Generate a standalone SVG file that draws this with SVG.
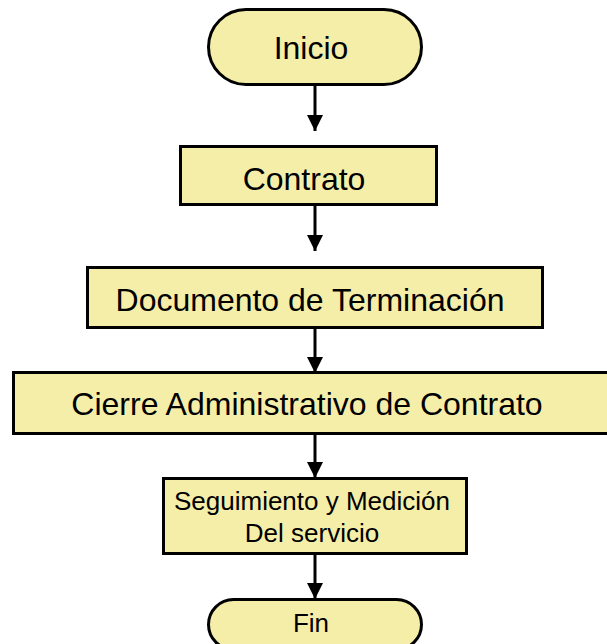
<svg xmlns="http://www.w3.org/2000/svg" width="607" height="644" viewBox="0 0 607 644">
<defs>
<style>
.box{fill:#F4EEA9;stroke:#000;stroke-width:3}
.t{font-family:"Liberation Sans",Arial,sans-serif;fill:#000;text-anchor:middle}
.big{font-size:32px}
.small{font-size:26px}
.c{stroke:#000;stroke-width:3;fill:none}
</style>
<marker id="arr" markerUnits="userSpaceOnUse" markerWidth="16" markerHeight="16" viewBox="0 0 16 16" refX="16" refY="8" orient="auto">
<path d="M0,0 L16,8 L0,16 Z" fill="#000"/>
</marker>
</defs>
<rect width="607" height="644" fill="#fff"/>
<g id="connectors">
<line class="c" x1="315" y1="85" x2="315" y2="131" marker-end="url(#arr)"/>
<line class="c" x1="315" y1="205" x2="315" y2="251" marker-end="url(#arr)"/>
<line class="c" x1="315" y1="328" x2="315" y2="373" marker-end="url(#arr)"/>
<line class="c" x1="315" y1="434" x2="315" y2="478" marker-end="url(#arr)"/>
<line class="c" x1="315" y1="554" x2="315" y2="599" marker-end="url(#arr)"/>
</g>
<g id="inicio">
<rect class="box" x="208.5" y="9.5" width="213" height="75" rx="37.5"/>
<text class="t big" x="311" y="59">Inicio</text>
</g>
<g id="contrato">
<rect class="box" x="180.5" y="146.5" width="256" height="58"/>
<text class="t big" x="304" y="190">Contrato</text>
</g>
<g id="documento">
<rect class="box" x="87.5" y="267.5" width="455" height="60"/>
<text class="t big" x="310" y="311">Documento de Terminación</text>
</g>
<g id="cierre">
<rect class="box" x="13.5" y="372.5" width="600" height="61"/>
<text class="t big" x="307" y="415">Cierre Administrativo de Contrato</text>
</g>
<g id="seguimiento">
<rect class="box" x="163.5" y="478.5" width="303" height="75"/>
<text class="t small" x="312" y="510">Seguimiento y Medición</text>
<text class="t small" x="312" y="542">Del servicio</text>
</g>
<g id="fin">
<rect class="box" x="208.5" y="599.5" width="213" height="50" rx="25"/>
<text class="t small" x="311" y="632">Fin</text>
</g>
</svg>
